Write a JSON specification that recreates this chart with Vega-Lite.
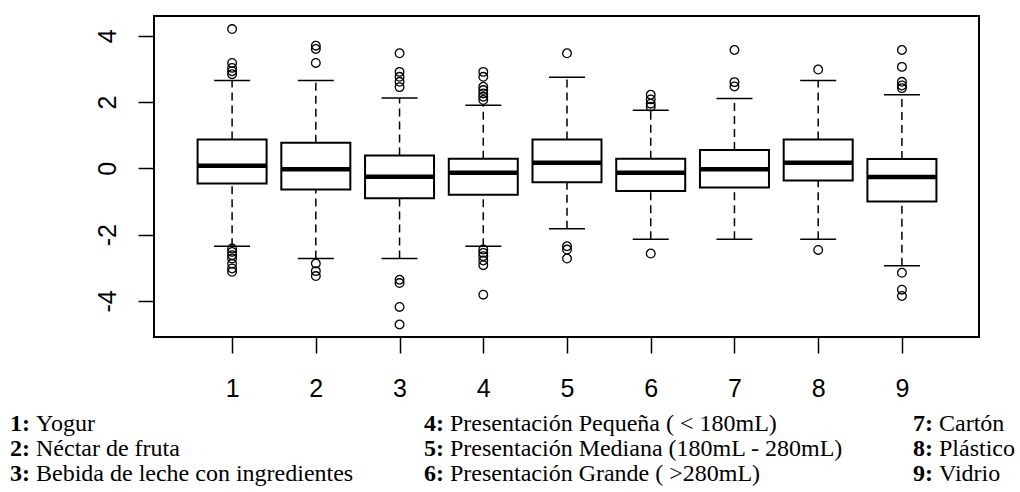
{
  "$schema": "https://vega.github.io/schema/vega-lite/v6.json",
  "width": 825,
  "height": 321,
  "autosize": {"type": "none"},
  "padding": {"left": 154, "top": 16, "right": 41, "bottom": 155},
  "background": "white",
  "config": {
    "view": {"stroke": "black", "strokeWidth": 2},
    "axis": {"labelFont": "Liberation Sans", "labelFontSize": 25, "labelColor": "black", "tickColor": "black", "tickSize": 16, "tickWidth": 1.5, "grid": false, "domain": false}
  },
  "datasets": {
    "boxes": [
      {"g": 1, "lo": -2.35, "q1": -0.46, "med": 0.08, "q3": 0.87, "hi": 2.65},
      {"g": 2, "lo": -2.72, "q1": -0.64, "med": -0.03, "q3": 0.77, "hi": 2.65},
      {"g": 3, "lo": -2.72, "q1": -0.90, "med": -0.25, "q3": 0.39, "hi": 2.12},
      {"g": 4, "lo": -2.35, "q1": -0.80, "med": -0.13, "q3": 0.29, "hi": 1.90},
      {"g": 5, "lo": -1.82, "q1": -0.42, "med": 0.17, "q3": 0.87, "hi": 2.75},
      {"g": 6, "lo": -2.14, "q1": -0.68, "med": -0.13, "q3": 0.29, "hi": 1.75},
      {"g": 7, "lo": -2.14, "q1": -0.58, "med": -0.03, "q3": 0.55, "hi": 2.11},
      {"g": 8, "lo": -2.14, "q1": -0.37, "med": 0.17, "q3": 0.87, "hi": 2.65},
      {"g": 9, "lo": -2.94, "q1": -1.00, "med": -0.26, "q3": 0.28, "hi": 2.22}
    ],
    "outliers": [
      {"g": 1, "v": 4.2}, {"g": 1, "v": 3.18}, {"g": 1, "v": 3.03}, {"g": 1, "v": 2.93}, {"g": 1, "v": 2.84},
      {"g": 1, "v": -2.42}, {"g": 1, "v": -2.52}, {"g": 1, "v": -2.62}, {"g": 1, "v": -2.72}, {"g": 1, "v": -2.88}, {"g": 1, "v": -3.02}, {"g": 1, "v": -3.12},
      {"g": 2, "v": 3.70}, {"g": 2, "v": 3.60}, {"g": 2, "v": 3.18},
      {"g": 2, "v": -2.87}, {"g": 2, "v": -3.10}, {"g": 2, "v": -3.25},
      {"g": 3, "v": 3.47}, {"g": 3, "v": 2.91}, {"g": 3, "v": 2.76}, {"g": 3, "v": 2.61}, {"g": 3, "v": 2.45},
      {"g": 3, "v": -3.36}, {"g": 3, "v": -3.46}, {"g": 3, "v": -4.18}, {"g": 3, "v": -4.71},
      {"g": 4, "v": 2.91}, {"g": 4, "v": 2.76}, {"g": 4, "v": 2.46}, {"g": 4, "v": 2.36}, {"g": 4, "v": 2.26}, {"g": 4, "v": 2.16}, {"g": 4, "v": 2.06},
      {"g": 4, "v": -2.45}, {"g": 4, "v": -2.55}, {"g": 4, "v": -2.65}, {"g": 4, "v": -2.78}, {"g": 4, "v": -2.92}, {"g": 4, "v": -3.81},
      {"g": 5, "v": 3.47},
      {"g": 5, "v": -2.35}, {"g": 5, "v": -2.45}, {"g": 5, "v": -2.72},
      {"g": 6, "v": 2.22}, {"g": 6, "v": 2.08}, {"g": 6, "v": 1.95}, {"g": 6, "v": 1.86},
      {"g": 6, "v": -2.57},
      {"g": 7, "v": 3.57}, {"g": 7, "v": 2.60}, {"g": 7, "v": 2.47},
      {"g": 8, "v": 2.98},
      {"g": 8, "v": -2.46},
      {"g": 9, "v": 3.57}, {"g": 9, "v": 3.06}, {"g": 9, "v": 2.61}, {"g": 9, "v": 2.50}, {"g": 9, "v": 2.42},
      {"g": 9, "v": -3.15}, {"g": 9, "v": -3.66}, {"g": 9, "v": -3.85}
    ],
    "legend": [
      {"col": 1, "row": 1, "num": "1:", "name": "Yogur"},
      {"col": 1, "row": 2, "num": "2:", "name": "Néctar de fruta"},
      {"col": 1, "row": 3, "num": "3:", "name": "Bebida de leche con ingredientes"},
      {"col": 2, "row": 1, "num": "4:", "name": "Presentación Pequeña ( < 180mL)"},
      {"col": 2, "row": 2, "num": "5:", "name": "Presentación Mediana (180mL - 280mL)"},
      {"col": 2, "row": 3, "num": "6:", "name": "Presentación Grande ( >280mL)"},
      {"col": 3, "row": 1, "num": "7:", "name": "Cartón"},
      {"col": 3, "row": 2, "num": "8:", "name": "Plástico"},
      {"col": 3, "row": 3, "num": "9:", "name": "Vidrio"}
    ]
  },
  "layer": [
    {
      "encoding": {
        "x": {"field": "g", "type": "quantitative", "title": null,
              "scale": {"domain": [0.127, 9.861], "nice": false, "zero": false},
              "axis": {"values": [1, 2, 3, 4, 5, 6, 7, 8, 9], "format": "d", "labelAngle": 0, "labelBaseline": "top", "labelPadding": 23}}
      },
      "layer": [
        {
          "data": {"name": "boxes"},
          "mark": {"type": "rule", "color": "black", "strokeWidth": 1.5, "strokeDash": [8, 5], "opacity": 1},
          "encoding": {
            "y": {"field": "q3", "type": "quantitative", "title": null,
                  "scale": {"domain": [-5.087, 4.595], "nice": false, "zero": false},
                  "axis": {"values": [-4, -2, 0, 2, 4], "labelExpr": "'' + datum.value", "labelAngle": -90, "labelAlign": "center", "labelBaseline": "alphabetic", "labelPadding": 23}},
            "y2": {"field": "hi"}
          }
        },
        {
          "data": {"name": "boxes"},
          "mark": {"type": "rule", "color": "black", "strokeWidth": 1.5, "strokeDash": [8, 5], "opacity": 1},
          "encoding": {
            "y": {"field": "lo", "type": "quantitative"},
            "y2": {"field": "q1"}
          }
        },
        {
          "data": {"name": "boxes"},
          "mark": {"type": "tick", "orient": "horizontal", "color": "black", "size": 36, "thickness": 1.5, "opacity": 1},
          "encoding": {"y": {"field": "hi", "type": "quantitative"}}
        },
        {
          "data": {"name": "boxes"},
          "mark": {"type": "tick", "orient": "horizontal", "color": "black", "size": 36, "thickness": 1.5, "opacity": 1},
          "encoding": {"y": {"field": "lo", "type": "quantitative"}}
        },
        {
          "data": {"name": "boxes"},
          "mark": {"type": "bar", "size": 69, "fill": "white", "stroke": "black", "strokeWidth": 2, "opacity": 1},
          "encoding": {
            "y": {"field": "q1", "type": "quantitative"},
            "y2": {"field": "q3"}
          }
        },
        {
          "data": {"name": "boxes"},
          "mark": {"type": "tick", "orient": "horizontal", "color": "black", "size": 69, "thickness": 4.5, "opacity": 1},
          "encoding": {"y": {"field": "med", "type": "quantitative"}}
        },
        {
          "data": {"name": "outliers"},
          "mark": {"type": "point", "shape": "circle", "filled": false, "color": "black", "size": 75, "strokeWidth": 1.3, "opacity": 1},
          "encoding": {"y": {"field": "v", "type": "quantitative"}}
        }
      ]
    },
    {
      "data": {"name": "legend"},
      "encoding": {
        "x": {"field": "col", "type": "quantitative", "axis": null, "scale": {"domain": [1, 2, 3], "range": [-144, 270, 759], "nice": false, "zero": false}},
        "y": {"field": "row", "type": "quantitative", "axis": null, "scale": {"domain": [1, 3], "range": [415, 465], "nice": false, "zero": false}}
      },
      "layer": [
        {
          "mark": {"type": "text", "font": "Liberation Serif, Times New Roman, serif", "fontSize": 24, "fontWeight": "bold", "align": "left", "baseline": "alphabetic", "color": "black"},
          "encoding": {"text": {"field": "num"}}
        },
        {
          "mark": {"type": "text", "font": "Liberation Serif, Times New Roman, serif", "fontSize": 24, "align": "left", "baseline": "alphabetic", "dx": 26, "color": "black"},
          "encoding": {"text": {"field": "name"}}
        }
      ]
    }
  ],
  "resolve": {"scale": {"x": "independent", "y": "independent"}}
}
